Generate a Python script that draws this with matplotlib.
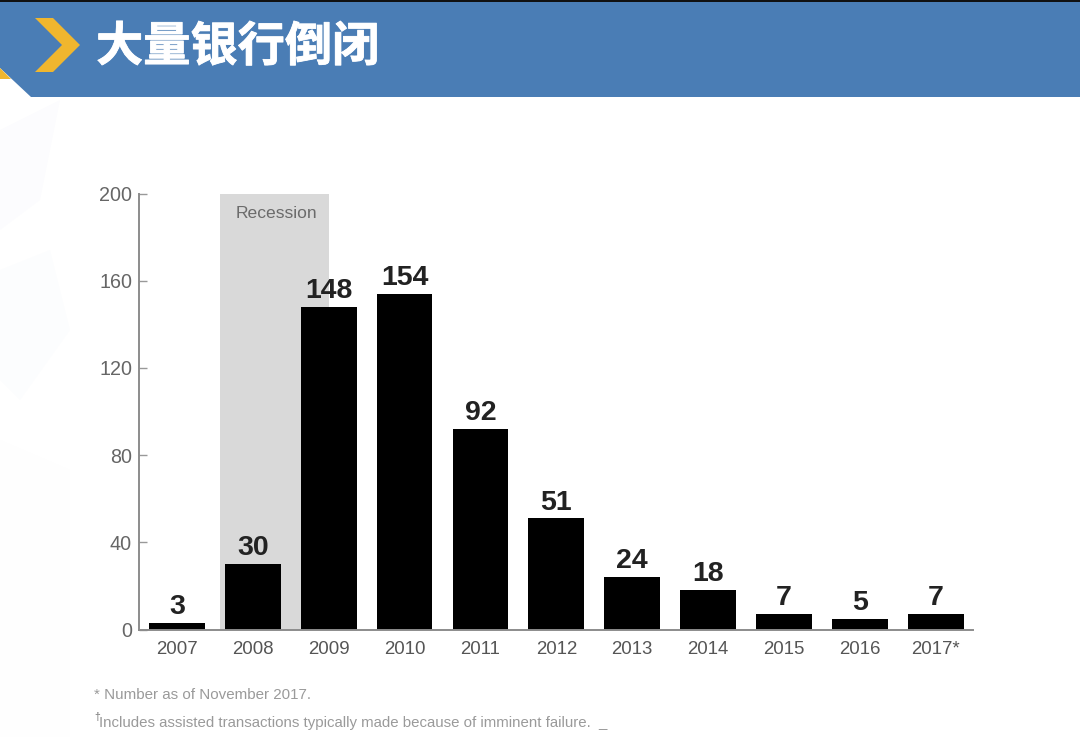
# bank failures per year, slide style header on top
import matplotlib
matplotlib.use("Agg")
import matplotlib.pyplot as plt
import matplotlib.patheffects as pe
from matplotlib.patches import Polygon

years = ["2007", "2008", "2009", "2010", "2011", "2012", "2013", "2014", "2015", "2016", "2017*"]
failures = [3, 30, 148, 154, 92, 51, 24, 18, 7, 5, 7]
y_ticks = [0, 40, 80, 120, 160, 200]
recession_start = 0.567
recession_end = 2.0
title = "大量银行倒闭"
note1 = "* Number as of November 2017."
note2 = "Includes assisted transactions typically made because of imminent failure.  _"

W, H = 1080, 737
plt.rcParams['font.family'] = ['Liberation Sans', 'DejaVu Sans']
fig = plt.figure(figsize=(W / 100, H / 100), dpi=100)

# full figure layer in pixels for the slide decoration
bg = fig.add_axes([0, 0, 1, 1], zorder=0)
bg.set_xlim(0, W)
bg.set_ylim(H, 0)
bg.axis("off")

# faint background shapes
bg.add_patch(Polygon([(0, 130), (60, 100), (40, 200), (0, 230)], fc="#fcfcfe", ec="none"))
bg.add_patch(Polygon([(0, 270), (50, 250), (70, 330), (20, 400), (0, 380)], fc="#fcfdfe", ec="none"))
bg.add_patch(Polygon([(0, 440), (70, 470), (70, 737), (0, 737)], fc="#fefefe", ec="none"))

# header
bg.add_patch(Polygon([(0, 1), (W, 1), (W, 97), (31, 97), (0, 68)], fc="#4a7db5", ec="none"))
bg.add_patch(Polygon([(0, 0), (W, 0), (W, 1.5), (0, 1.5)], fc="#111111", ec="none"))
bg.add_patch(Polygon([(0, 68), (11, 79), (0, 79)], fc="#f0b62e", ec="none"))
bg.add_patch(Polygon([(35, 18), (53, 18), (80, 45), (53, 72), (35, 72), (62, 45)], fc="#f0b62e", ec="none"))
bg.text(96, 47, title, color="white", fontsize=34, fontweight="bold",
        family=["Noto Sans CJK SC", "DejaVu Sans"], va="center", ha="left",
        path_effects=[pe.withStroke(linewidth=0.6, foreground="white")])

# footnotes
bg.text(94, 695, note1, color="#9a9a9a", fontsize=10.9, va="center", ha="left")
bg.text(94, 717, "†", color="#777777", fontsize=7.5, va="center", ha="left")
bg.text(99, 722.5, note2, color="#9a9a9a", fontsize=10.8, va="center", ha="left")

# chart
ax = fig.add_axes([139 / W, 1 - 629.5 / H, (973 - 139) / W, (629.5 - 193.5) / H], zorder=1)
ax.patch.set_alpha(0)
ax.axvspan(recession_start, recession_end, color="#d9d9d9", lw=0, zorder=0)
x = list(range(len(years)))
bars = ax.bar(x, failures, width=0.735, color="black", zorder=2)
ax.bar_label(bars, padding=2, fontsize=20.5, fontweight="bold", color="#222222", zorder=3)
ax.text((recession_start + recession_end) / 2 + 0.022, 190.6, "Recession", color="#6b6b6b",
        fontsize=12.6, ha="center", va="center")

ax.set_xlim(-0.5, 10.49)
ax.set_ylim(0, 200)
ax.set_xticks(x, years)
ax.set_yticks(y_ticks)
ax.tick_params(axis="x", length=0, pad=8, labelsize=13.4, labelcolor="#555555")
ax.tick_params(axis="y", direction="in", length=6, width=1, color="#999999", pad=5,
               labelsize=14.2, labelcolor="#666666")
for s in ["top", "right"]:
    ax.spines[s].set_visible(False)
for s in ["left", "bottom"]:
    ax.spines[s].set_color("#8c8c8c")
    ax.spines[s].set_linewidth(1.4)

fig.savefig("out.png", dpi=100)
